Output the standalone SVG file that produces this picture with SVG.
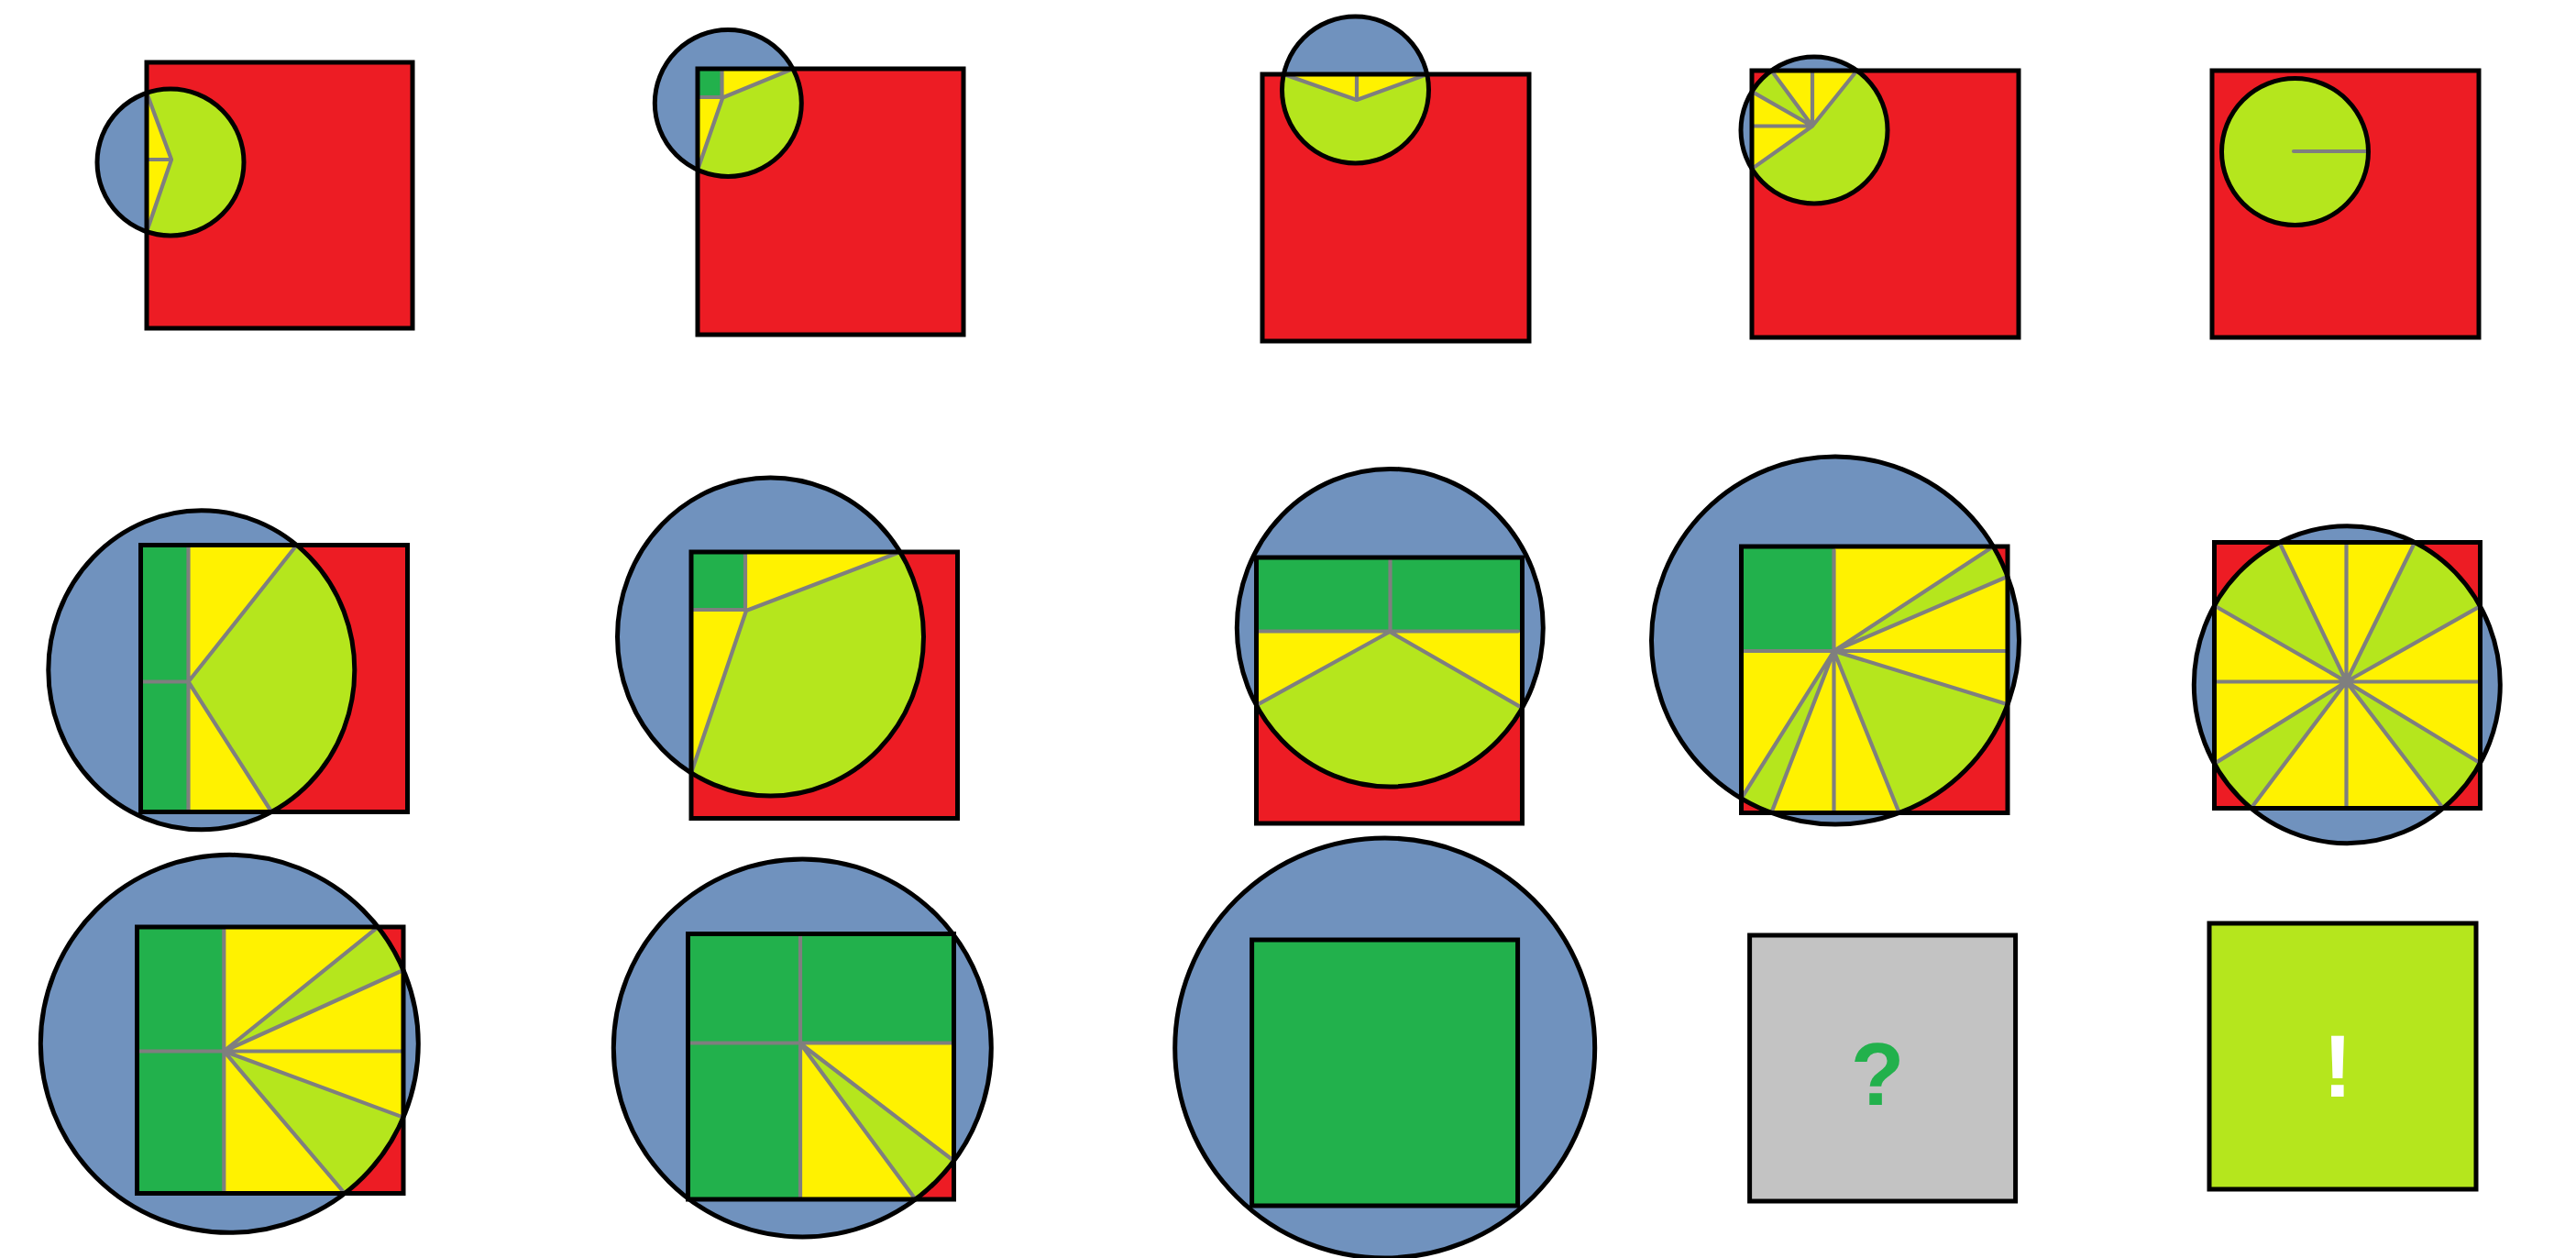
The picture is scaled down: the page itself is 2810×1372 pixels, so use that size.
<svg xmlns="http://www.w3.org/2000/svg" width="2810" height="1372" viewBox="0 0 2810 1372">
<style>
.b{fill:#7092BE}.r{fill:#ED1C24}.y{fill:#FFF200}.l{fill:#B5E61D}.g{fill:#22B14C}.q{fill:#C3C3C3}
.ln{fill:none;stroke:#7F7F7F;stroke-width:4.2;stroke-linecap:round;stroke-linejoin:round}
.o{fill:none;stroke:#000;stroke-width:5}
.t{font-family:"Liberation Sans",Arial,sans-serif;font-weight:bold;font-size:96px;text-anchor:middle}
</style>
<defs>
<clipPath id="s1"><rect x="160" y="68" width="290" height="290"/></clipPath>
<clipPath id="s2"><rect x="761" y="75" width="290" height="290"/></clipPath>
<clipPath id="s3"><rect x="1377" y="81" width="291" height="291"/></clipPath>
<clipPath id="s4"><rect x="1911" y="77" width="291" height="291"/></clipPath>
<clipPath id="s6"><rect x="153.5" y="594.5" width="291" height="291"/></clipPath>
<clipPath id="s7"><rect x="754" y="602" width="290.5" height="290.5"/></clipPath>
<clipPath id="s8"><rect x="1370.5" y="608" width="290" height="290"/></clipPath>
<clipPath id="s9"><rect x="1899.5" y="596" width="290.5" height="290.5"/></clipPath>
<clipPath id="s10"><rect x="2415.5" y="591.5" width="290" height="290"/></clipPath>
<clipPath id="s11"><rect x="149.5" y="1011" width="290.5" height="290.5"/></clipPath>
<clipPath id="s12"><rect x="750.5" y="1018.5" width="290" height="289.5"/></clipPath>
</defs>
<rect width="2810" height="1372" fill="#fff"/>

<g id="panel1">
<circle class="b" cx="186" cy="177" r="80"/>
<rect class="r" x="160" y="68" width="290" height="290"/>
<g clip-path="url(#s1)">
<circle class="y" cx="186" cy="177" r="80"/>
<path class="l" d="M187,174 L160,101.3 A80,80 0 1 1 160,252.7 Z"/>
</g>
<path class="ln" d="M160,101.3 L187,174 L160,252.7 M161,174 H187"/>
<rect class="o" x="160" y="68" width="290" height="290"/>
<circle class="o" cx="186" cy="177" r="80"/>
</g>

<g id="panel2">
<circle class="b" cx="794.3" cy="112.5" r="80"/>
<rect class="r" x="761" y="75" width="290" height="290"/>
<g clip-path="url(#s2)">
<circle class="y" cx="794.3" cy="112.5" r="80"/>
<path class="l" d="M788.3,106.5 L865,75 A80,80 0 0 1 761,185.2 Z"/>
<rect class="g" x="761" y="75" width="26.5" height="31"/>
</g>
<path class="ln" d="M787.5,77 V106 M763,106 H788.3 M865,75 L788.3,106.5 L761,185.2"/>
<rect class="o" x="761" y="75" width="290" height="290"/>
<circle class="o" cx="794.3" cy="112.5" r="80"/>
</g>

<g id="panel3">
<circle class="b" cx="1478.5" cy="98" r="80"/>
<rect class="r" x="1377" y="81" width="291" height="291"/>
<g clip-path="url(#s3)">
<circle class="y" cx="1478.5" cy="98" r="80"/>
<path class="l" d="M1480,109 L1556.7,81 A80,80 0 1 1 1400.3,81 Z"/>
</g>
<path class="ln" d="M1400.3,81 L1480,109 L1556.7,81 M1480,109 V83"/>
<rect class="o" x="1377" y="81" width="291" height="291"/>
<circle class="o" cx="1478.5" cy="98" r="80"/>
</g>

<g id="panel4">
<circle class="b" cx="1979" cy="142" r="80"/>
<rect class="r" x="1911" y="77" width="291" height="291"/>
<g clip-path="url(#s4)">
<circle class="y" cx="1979" cy="142" r="80"/>
<path class="l" d="M1977,137.5 L2025.6,77 A80,80 0 1 1 1911,184.1 Z"/>
<path class="l" d="M1977,137.5 L1911,99.9 A80,80 0 0 1 1932.4,77 Z"/>
</g>
<path class="ln" d="M1977,137.5 L2025.6,77 M1977,137.5 V79 M1977,137.5 L1932.4,77 M1977,137.5 L1911,99.9 M1977,137.5 H1913 M1977,137.5 L1911,184.1"/>
<rect class="o" x="1911" y="77" width="291" height="291"/>
<circle class="o" cx="1979" cy="142" r="80"/>
</g>

<g id="panel5">
<rect class="r" x="2413" y="77" width="291" height="291"/>
<circle class="l" cx="2503.5" cy="165.5" r="80"/>
<path class="ln" d="M2502,165 H2583"/>
<rect class="o" x="2413" y="77" width="291" height="291"/>
<circle class="o" cx="2503.5" cy="165.5" r="80"/>
</g>

<g id="panel6">
<ellipse class="b" cx="219.8" cy="730.8" rx="167" ry="174"/>
<rect class="r" x="153.5" y="594.5" width="291" height="291"/>
<g clip-path="url(#s6)">
<ellipse class="y" cx="219.8" cy="730.8" rx="167" ry="174"/>
<path class="l" d="M205.5,743.5 L323.6,594.5 A167,174 0 0 1 296.2,885.5 Z"/>
<rect class="g" x="153.5" y="594.5" width="52" height="291"/>
</g>
<path class="ln" d="M205.5,597 V883 M156,743.5 H205.5 M323.6,594.5 L205.5,743.5 L296.2,885.5"/>
<rect class="o" x="153.5" y="594.5" width="291" height="291"/>
<ellipse class="o" cx="219.8" cy="730.8" rx="167" ry="174"/>
</g>

<g id="panel7">
<ellipse class="b" cx="840.5" cy="694.5" rx="167" ry="173.5"/>
<rect class="r" x="754" y="602" width="290.5" height="290.5"/>
<g clip-path="url(#s7)">
<ellipse class="y" cx="840.5" cy="694.5" rx="167" ry="173.5"/>
<path class="l" d="M814,666 L981.8,602 A167,173.5 0 0 1 754,842.9 Z"/>
<rect class="g" x="754" y="602" width="59" height="63"/>
</g>
<path class="ln" d="M813,604 V665 M756,665 H814 M981.8,602 L814,666 L754,842.9"/>
<rect class="o" x="754" y="602" width="290.5" height="290.5"/>
<ellipse class="o" cx="840.5" cy="694.5" rx="167" ry="173.5"/>
</g>

<g id="panel8">
<ellipse class="b" cx="1516.3" cy="684.7" rx="167" ry="173.3"/>
<rect class="r" x="1370.5" y="608" width="290" height="290"/>
<g clip-path="url(#s8)">
<ellipse class="y" cx="1516.3" cy="684.7" rx="167" ry="173.3"/>
<path class="l" d="M1516,689 L1660.5,772.1 A167,173.3 0 0 1 1370.5,769.2 Z"/>
<rect class="g" x="1370.5" y="608" width="290" height="80.5"/>
</g>
<path class="ln" d="M1516.5,611 V689 M1372,688.5 H1656 M1370.5,769.2 L1516,689 L1660.5,772.1"/>
<rect class="o" x="1370.5" y="608" width="290" height="290"/>
<ellipse class="o" cx="1516.3" cy="684.7" rx="167" ry="173.3"/>
</g>

<g id="panel9">
<circle class="b" cx="2002" cy="698.5" r="200.5"/>
<rect class="r" x="1899.5" y="596" width="290.5" height="290.5"/>
<g clip-path="url(#s9)">
<circle class="y" cx="2002" cy="698.5" r="200.5"/>
<path class="l" d="M2000.5,710 L2174.3,596 A200.5,200.5 0 0 1 2190,628.8 Z"/>
<path class="l" d="M2000.5,710 L2190,768.2 A200.5,200.5 0 0 1 2071.7,886.5 Z"/>
<path class="l" d="M2000.5,710 L1932.3,886.5 A200.5,200.5 0 0 1 1899.5,870.8 Z"/>
<rect class="g" x="1899.5" y="596" width="101" height="114"/>
</g>
<path class="ln" d="M2000.5,600 V884 M1902,710 H2188 M2000.5,710 L2174.3,596 M2000.5,710 L2190,628.8 M2000.5,710 L2190,768.2 M2000.5,710 L2071.7,886.5 M2000.5,710 L1932.3,886.5 M2000.5,710 L1899.5,870.8"/>
<rect class="o" x="1899.5" y="596" width="290.5" height="290.5"/>
<circle class="o" cx="2002" cy="698.5" r="200.5"/>
</g>

<g id="panel10">
<ellipse class="b" cx="2560.3" cy="746.7" rx="167" ry="173"/>
<rect class="r" x="2415.5" y="591.5" width="290" height="290"/>
<g clip-path="url(#s10)">
<ellipse class="y" cx="2560.3" cy="746.7" rx="167" ry="173"/>
<path class="l" d="M2559.5,743.5 L2634.1,591.5 A167,173 0 0 1 2705.5,661.2 Z"/>
<path class="l" d="M2559.5,743.5 L2705.5,832.2 A167,173 0 0 1 2665,881.5 Z"/>
<path class="l" d="M2559.5,743.5 L2455.6,881.5 A167,173 0 0 1 2415.5,832.9 Z"/>
<path class="l" d="M2559.5,743.5 L2415.5,660.5 A167,173 0 0 1 2486.5,591.5 Z"/>
</g>
<path class="ln" d="M2559.5,594 V879 M2417,743.5 H2704 M2559.5,743.5 L2634.1,591.5 M2559.5,743.5 L2705.5,661.2 M2559.5,743.5 L2705.5,832.2 M2559.5,743.5 L2665,881.5 M2559.5,743.5 L2455.6,881.5 M2559.5,743.5 L2415.5,832.9 M2559.5,743.5 L2415.5,660.5 M2559.5,743.5 L2486.5,591.5"/>
<rect class="o" x="2415.5" y="591.5" width="290" height="290"/>
<ellipse class="o" cx="2560.3" cy="746.7" rx="167" ry="173"/>
</g>

<g id="panel11">
<circle class="b" cx="250.3" cy="1138.3" r="206"/>
<rect class="r" x="149.5" y="1011" width="290.5" height="290.5"/>
<g clip-path="url(#s11)">
<circle class="y" cx="250.3" cy="1138.3" r="206"/>
<path class="l" d="M244.3,1146.5 L412.3,1011 A206,206 0 0 1 440,1058 Z"/>
<path class="l" d="M244.3,1146.5 L440,1218.6 A206,206 0 0 1 376,1301.5 Z"/>
<rect class="g" x="149.5" y="1011" width="94.8" height="290.5"/>
</g>
<path class="ln" d="M244.3,1014 V1299 M151,1146.5 H439 M244.3,1146.5 L412.3,1011 M244.3,1146.5 L440,1058 M244.3,1146.5 L440,1218.6 M244.3,1146.5 L376,1301.5"/>
<rect class="o" x="149.5" y="1011" width="290.5" height="290.5"/>
<circle class="o" cx="250.3" cy="1138.3" r="206"/>
</g>

<g id="panel12">
<circle class="b" cx="875.3" cy="1143" r="206"/>
<rect class="r" x="750.5" y="1018.5" width="290" height="289.5"/>
<g clip-path="url(#s12)">
<circle class="y" cx="875.3" cy="1143" r="206"/>
<path class="l" d="M873,1138 L1040.5,1266 A206,206 0 0 1 998.6,1308 Z"/>
<rect class="g" x="750.5" y="1018.5" width="290" height="119.5"/>
<rect class="g" x="750.5" y="1137" width="122.5" height="171"/>
</g>
<path class="ln" d="M873,1021.5 V1305.5 M753,1137.5 H1040 M1040.5,1266 L873,1138 L998.6,1308"/>
<rect class="o" x="750.5" y="1018.5" width="290" height="289.5"/>
<circle class="o" cx="875.3" cy="1143" r="206"/>
</g>

<g id="panel13">
<circle class="b" cx="1510.7" cy="1143" r="229"/>
<rect class="g" x="1365.6" y="1025" width="290" height="290"/>
<rect class="o" x="1365.6" y="1025" width="290" height="290"/>
<circle class="o" cx="1510.7" cy="1143" r="229"/>
</g>

<g id="panel14">
<rect class="q" x="1908.6" y="1020" width="290" height="290"/>
<rect class="o" x="1908.6" y="1020" width="290" height="290"/>
<text class="t" x="2048" y="1205" fill="#22B14C">?</text>
</g>

<g id="panel15">
<rect class="l" x="2410" y="1007" width="291" height="290"/>
<rect class="o" x="2410" y="1007" width="291" height="290"/>
<text class="t" x="2550" y="1196" fill="#FFFFFF">!</text>
</g>
</svg>
